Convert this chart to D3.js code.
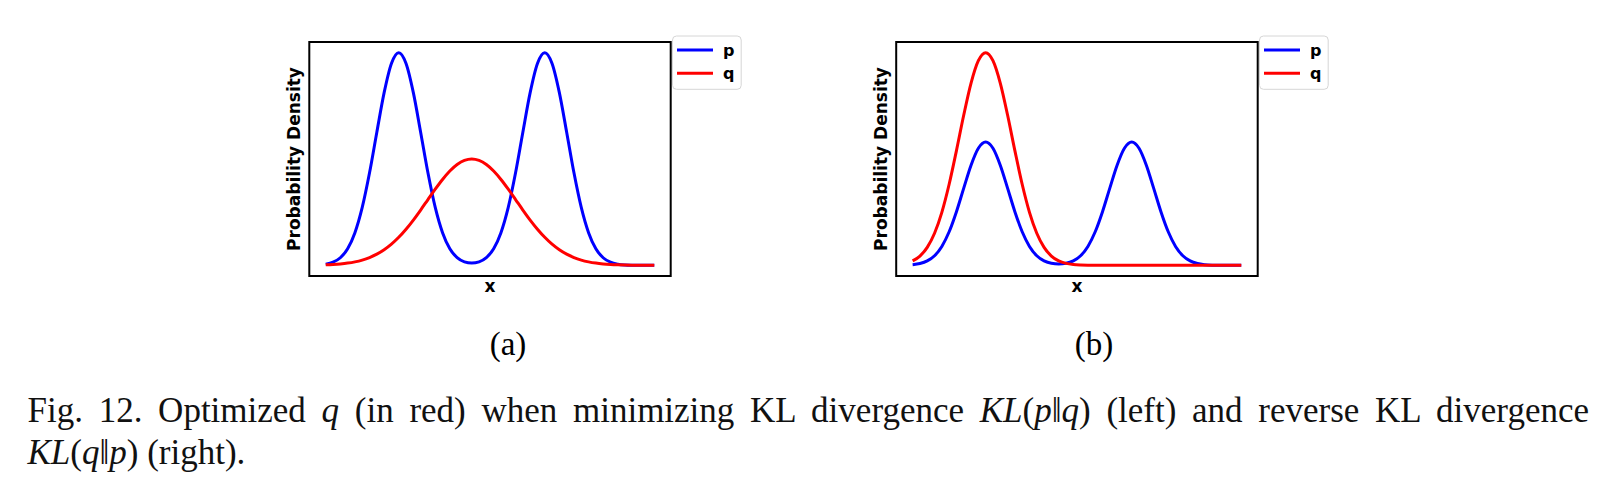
<!DOCTYPE html>
<html>
<head>
<meta charset="utf-8">
<script src="https://cdn.jsdelivr.net/npm/d3@7"></script>
<style>
  html, body { margin: 0; padding: 0; background: #ffffff; }
  svg { display: block; }
</style>
</head>
<body>
<svg id="chart" width="1620" height="494"></svg>
<script>
// ---- data ----
const xValues = [-4.0,-3.8,-3.6,-3.4,-3.2,-3.0,-2.8,-2.6,-2.4,-2.2,-2.0,-1.8,-1.6,-1.4,-1.2,-1.0,-0.8,-0.6,-0.4,-0.2,
  0.0,0.2,0.4,0.6,0.8,1.0,1.2,1.4,1.6,1.8,2.0,2.2,2.4,2.6,2.8,3.0,3.2,3.4,3.6,3.8,4.0,4.2,4.4,4.6,4.8,5.0];

// panel (a): KL(p||q)
const pA = [0.0055,0.0148,0.0358,0.0781,0.1537,0.2723,0.4350,0.6261,0.8121,0.9493,1.0000,0.9493,0.8121,0.6261,0.4350,0.2723,0.1537,0.0781,0.0364,0.0166,
  0.0110,0.0166,0.0364,0.0781,0.1537,0.2723,0.4350,0.6261,0.8121,0.9493,1.0000,0.9493,0.8121,0.6261,0.4350,0.2723,0.1537,0.0781,0.0358,0.0148,0.0055,0.0018,0.0006,0.0001,0.0000,0.0000];
const qA = [0.0024,0.0041,0.0067,0.0106,0.0165,0.0249,0.0366,0.0525,0.0733,0.0996,0.1318,0.1698,0.2130,0.2602,0.3094,0.3583,0.4039,0.4435,0.4740,0.4934,
  0.5000,0.4934,0.4740,0.4435,0.4039,0.3583,0.3094,0.2602,0.2130,0.1698,0.1318,0.0996,0.0733,0.0525,0.0366,0.0249,0.0165,0.0106,0.0067,0.0041,0.0024,0.0014,0.0008,0.0004,0.0002,0.0001];

// panel (b): KL(q||p)
const pB = [0.0032,0.0086,0.0208,0.0453,0.0891,0.1579,0.2523,0.3631,0.4710,0.5506,0.5800,0.5506,0.4710,0.3631,0.2523,0.1579,0.0891,0.0453,0.0211,0.0096,
  0.0064,0.0096,0.0211,0.0453,0.0891,0.1579,0.2523,0.3631,0.4710,0.5506,0.5800,0.5506,0.4710,0.3631,0.2523,0.1579,0.0891,0.0453,0.0208,0.0086,0.0032,0.0010,0.0003,0.0001,0.0000,0.0000];
const qB = [0.0211,0.0439,0.0846,0.1510,0.2494,0.3812,0.5394,0.7066,0.8570,0.9622,1.0000,0.9622,0.8570,0.7066,0.5394,0.3812,0.2494,0.1510,0.0846,0.0439,
  0.0211,0.0094,0.0039,0.0015,0.0005,0.0002,0,0,0,0,0,0,0,0,0,0,0,0,0,0,0,0,0,0,0,0];

const seriesNames = ["p", "q"];
const seriesColors = ["#0000ff", "#ff0000"];
const panelLabels = ["(a)", "(b)"];
const xLabel = "x";
const yLabel = "Probability Density";

// ---- layout ----
const svg = d3.select("#chart");
const panels = [
  { left: 309.3, right: 670.7, series: [pA, qA], label: panelLabels[0], labelX: 508 },
  { left: 896.2, right: 1257.7, series: [pB, qB], label: panelLabels[1], labelX: 1094 }
];
const plotTop = 42, plotBottom = 276;

panels.forEach(pn => {
  const g = svg.append("g");
  const xmin = d3.min(xValues), xmax = d3.max(xValues);
  const xpad = (xmax - xmin) * 0.05;
  const all = pn.series.flat();
  const ymin = d3.min(all), ymax = d3.max(all);
  const ypad = (ymax - ymin) * 0.05;
  const x = d3.scaleLinear().domain([xmin - xpad, xmax + xpad]).range([pn.left, pn.right]);
  const y = d3.scaleLinear().domain([ymin - ypad, ymax + ypad]).range([plotBottom, plotTop]);

  const line = d3.line()
    .x((d, i) => x(xValues[i]))
    .y(d => y(d))
    .curve(d3.curveMonotoneX);

  pn.series.forEach((s, si) => {
    g.append("path")
      .datum(s)
      .attr("d", line)
      .attr("fill", "none")
      .attr("stroke", seriesColors[si])
      .attr("stroke-width", 3)
      .attr("stroke-linejoin", "round")
      .attr("stroke-linecap", "butt");
  });

  // frame
  g.append("rect")
    .attr("x", pn.left).attr("y", plotTop)
    .attr("width", pn.right - pn.left).attr("height", plotBottom - plotTop)
    .attr("fill", "none").attr("stroke", "#000").attr("stroke-width", 2);

  // axis labels
  g.append("text")
    .attr("x", (pn.left + pn.right) / 2).attr("y", 292)
    .attr("text-anchor", "middle")
    .attr("font-family", "DejaVu Sans").attr("font-weight", "bold").attr("font-size", 17)
    .text(xLabel);
  g.append("text")
    .attr("transform", `translate(${pn.left - 9},${(plotTop + plotBottom) / 2}) rotate(-90)`)
    .attr("text-anchor", "middle")
    .attr("font-family", "DejaVu Sans").attr("font-weight", "bold").attr("font-size", 17)
    .text(yLabel);

  // legend
  const lg = g.append("g").attr("transform", `translate(${pn.right + 1.8},36)`);
  lg.append("rect").attr("x", 0).attr("y", 0).attr("width", 68.7).attr("height", 53.3)
    .attr("rx", 4).attr("fill", "#fff").attr("stroke", "#d6d6d6").attr("stroke-width", 1);
  seriesNames.forEach((nm, i) => {
    const yy = 14 + i * 23.3;
    lg.append("line").attr("x1", 4.5).attr("x2", 40.5).attr("y1", yy).attr("y2", yy)
      .attr("stroke", seriesColors[i]).attr("stroke-width", 3);
    lg.append("text").attr("x", 50.5).attr("y", yy + 5.5)
      .attr("font-family", "DejaVu Sans").attr("font-weight", "bold").attr("font-size", 16)
      .text(nm);
  });

  // sub-figure label
  svg.append("text")
    .attr("x", pn.labelX).attr("y", 355)
    .attr("text-anchor", "middle")
    .attr("font-family", "Liberation Serif").attr("font-size", 33)
    .text(pn.label);
});

// ---- caption ----
const capFont = "Liberation Serif", capSize = 35;
const line1 = [
  ["Fig. 12. Optimized ", false], ["q", true], [" (in red) when minimizing KL divergence ", false],
  ["KL", true], ["(", false], ["p", true], ["\u2016", false], ["q", true], [")", false],
  [" (left) and reverse KL divergence", false]
];
const line2 = [
  ["KL", true], ["(", false], ["q", true], ["\u2016", false], ["p", true], [")", false], [" (right).", false]
];
function caption(parts, yBase, justifyTo) {
  const t = svg.append("text").attr("x", 27.5).attr("y", yBase)
    .attr("font-family", capFont).attr("font-size", capSize).attr("fill", "#111");
  parts.forEach(([s, it]) => {
    t.append("tspan").attr("font-style", it ? "italic" : "normal").text(s);
  });
  if (justifyTo) {
    const natural = t.node().getComputedTextLength();
    const nSpaces = parts.map(p => p[0]).join("").split(" ").length - 1;
    const extra = (justifyTo - 27.5 - natural) / nSpaces;
    t.style("word-spacing", extra + "px");
  }
}
caption(line1, 422, 1589);
caption(line2, 464, null);
</script>
</body>
</html>
